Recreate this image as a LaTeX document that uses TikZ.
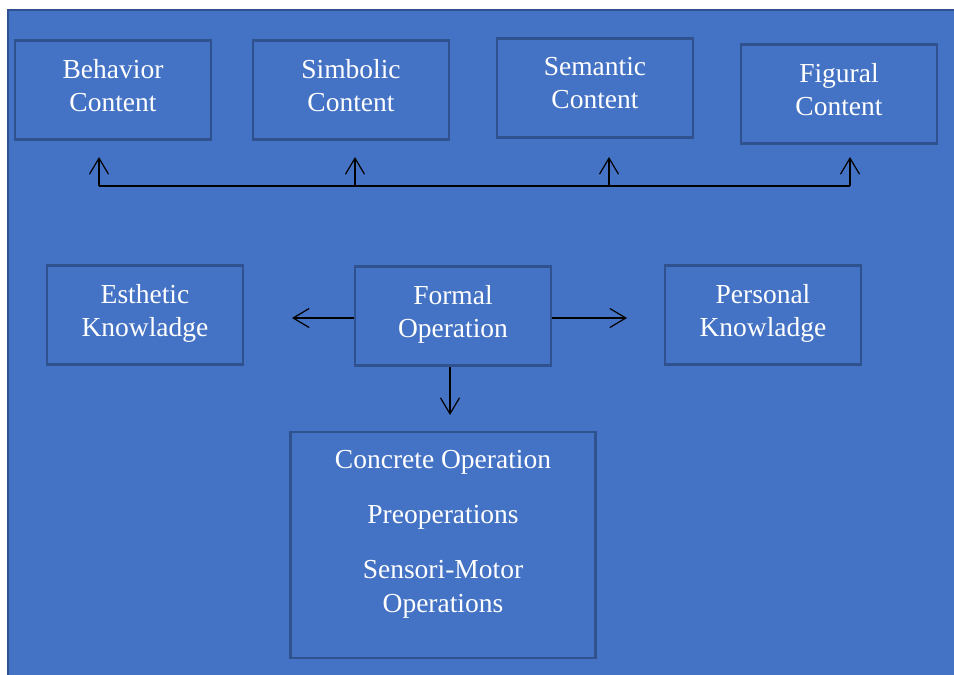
\documentclass[tikz,border=0pt]{standalone}
\usepackage{fontspec}
\setmainfont{Liberation Serif}
\usetikzlibrary{arrows.meta}
\definecolor{bgblue}{HTML}{4472C4}
\definecolor{edgeblue}{HTML}{2F528F}
\tikzset{
    box/.style={draw=edgeblue, line width=2.5pt, fill=bgblue, text=white, align=center,
        font=\fontsize{27.5}{33}\selectfont, text depth=10pt,
        minimum width=196pt, minimum height=99pt, inner sep=0pt},
    lbl/.style={text=white, align=center, font=\fontsize{27.5}{34}\selectfont, inner sep=0pt},
    arr/.style={-{Straight Barb[length=16pt,width=19pt]}, line width=1.2pt},
}
\begin{document}
\begin{tikzpicture}[x=1pt,y=-1pt]
    \useasboundingbox (0,0) rectangle (954,675);
    \fill[white] (0,0) rectangle (954,675);
    \draw[edgeblue, line width=2.5pt, fill=bgblue] (8,10) rectangle (962,682);

    \node[box] (behav) at (113,90) {Behavior\\Content};
    \node[box] (simbol) at (351,90) {Simbolic\\Content};
    \node[box] (seman) at (595,88) {Semantic\\Content};
    \node[box] (figur) at (839,94) {Figural\\Content};

    \node[box] (esthet) at (145,315) {Esthetic\\Knowladge};
    \node[box] (formal) at (453,316) {Formal\\Operation};
    \node[box] (person) at (763,315) {Personal\\Knowladge};

    \node[box, minimum width=305pt, minimum height=226pt, text depth=0pt] (stages) at (443,545) {};
    \node[lbl] (concr) at (443,462) {Concrete Operation};
    \node[lbl] (preop) at (443,517) {Preoperations};
    \node[lbl] (senso) at (443,589) {Sensori-Motor\\Operations};

    \coordinate (bus1) at (99,186);
    \coordinate (bus2) at (355,186);
    \coordinate (bus3) at (609,186);
    \coordinate (bus4) at (850,186);
    \coordinate (tip1) at (99,157);
    \coordinate (tip2) at (355,157);
    \coordinate (tip3) at (609,157);
    \coordinate (tip4) at (850,157);
    \coordinate (tipL) at (292,318);
    \coordinate (tipR) at (627,318);
    \coordinate (tipD) at (450,415);

    \draw[line width=1.2pt] (bus1) -- (bus4);
    \draw[arr] (bus1) -- (tip1);
    \draw[arr] (bus2) -- (tip2);
    \draw[arr] (bus3) -- (tip3);
    \draw[arr] (bus4) -- (tip4);
    \draw[arr] (formal.west |- tipL) -- (tipL);
    \draw[arr] (formal.east |- tipR) -- (tipR);
    \draw[arr] (formal.south -| tipD) -- (tipD);
\end{tikzpicture}
\end{document}
